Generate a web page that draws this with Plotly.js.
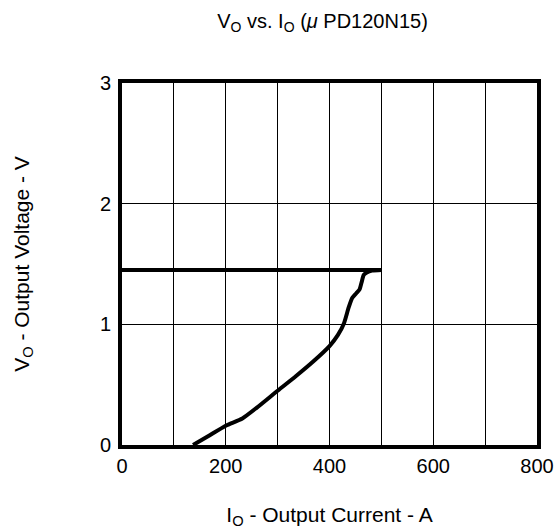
<!DOCTYPE html>
<html>
<head>
<meta charset="utf-8">
<script src="https://cdn.plot.ly/plotly-3.0.1.min.js"></script>
<style>html,body{margin:0;padding:0;background:#fff;}#chart{width:558px;height:531px;}</style>
</head>
<body>
<div id="chart"></div>
<script>
// Output current (A) and output voltage (V)
const curveCurrent = [137, 165, 200, 232, 260, 300, 335, 368, 400, 416, 428, 437, 444, 452, 458, 462, 466, 472, 482, 500];
const curveVoltage = [0, 0.07, 0.16, 0.22, 0.31, 0.45, 0.57, 0.69, 0.82, 0.91, 1.01, 1.14, 1.22, 1.26, 1.29, 1.35, 1.41, 1.43, 1.445, 1.45];
// Flat limit line
const limitCurrent = [0, 500];
const limitVoltage = [1.45, 1.45];
const xTicks = [0, 200, 400, 600, 800];
const yTicks = [0, 1, 2, 3];

const font = 'Liberation Sans, Arial, sans-serif';

const traces = [
  {x: limitCurrent, y: limitVoltage, mode: 'lines', line: {color: '#000', width: 4}, hoverinfo: 'skip'},
  {x: curveCurrent, y: curveVoltage, mode: 'lines', line: {color: '#000', width: 4, shape: 'spline', smoothing: 0.6}, hoverinfo: 'skip'}
];

const layout = {
  width: 558, height: 531,
  margin: {l: 122, r: 21, t: 83, b: 86},
  paper_bgcolor: '#fff', plot_bgcolor: '#fff',
  showlegend: false,
  font: {family: font, color: '#000', size: 20},
  title: {text: 'V<sub>O</sub> vs. I<sub>O</sub> (<i>μ</i> PD120N15)', font: {size: 20, family: font, color: '#000'},
          x: 0.578, xanchor: 'center', xref: 'container', y: 0.961, yanchor: 'middle', yref: 'container'},
  xaxis: {
    range: [0, 800], tickvals: xTicks, ticktext: xTicks.map(String),
    showgrid: true, gridcolor: '#000', gridwidth: 1,
    minor: {dtick: 100, showgrid: true, gridcolor: '#000', gridwidth: 1, ticks: ''},
    showline: true, linecolor: '#000', linewidth: 4, mirror: true,
    zeroline: false, ticks: '', tickfont: {size: 20, family: font},
    title: {text: 'I<sub>O</sub> - Output Current - A', font: {size: 21, family: font}, standoff: 32},
    fixedrange: true
  },
  yaxis: {
    range: [0, 3], tickvals: yTicks, ticktext: yTicks.map(String),
    showgrid: true, gridcolor: '#000', gridwidth: 1,
    showline: true, linecolor: '#000', linewidth: 4, mirror: true,
    zeroline: false, ticks: '', tickfont: {size: 20, family: font},
    ticklabelstandoff: 3,
    title: {text: 'V<sub>O</sub> - Output Voltage - V', font: {size: 21, family: font}, standoff: 66},
    fixedrange: true
  }
};

Plotly.newPlot('chart', traces, layout, {displayModeBar: false, staticPlot: true});
</script>
</body>
</html>
